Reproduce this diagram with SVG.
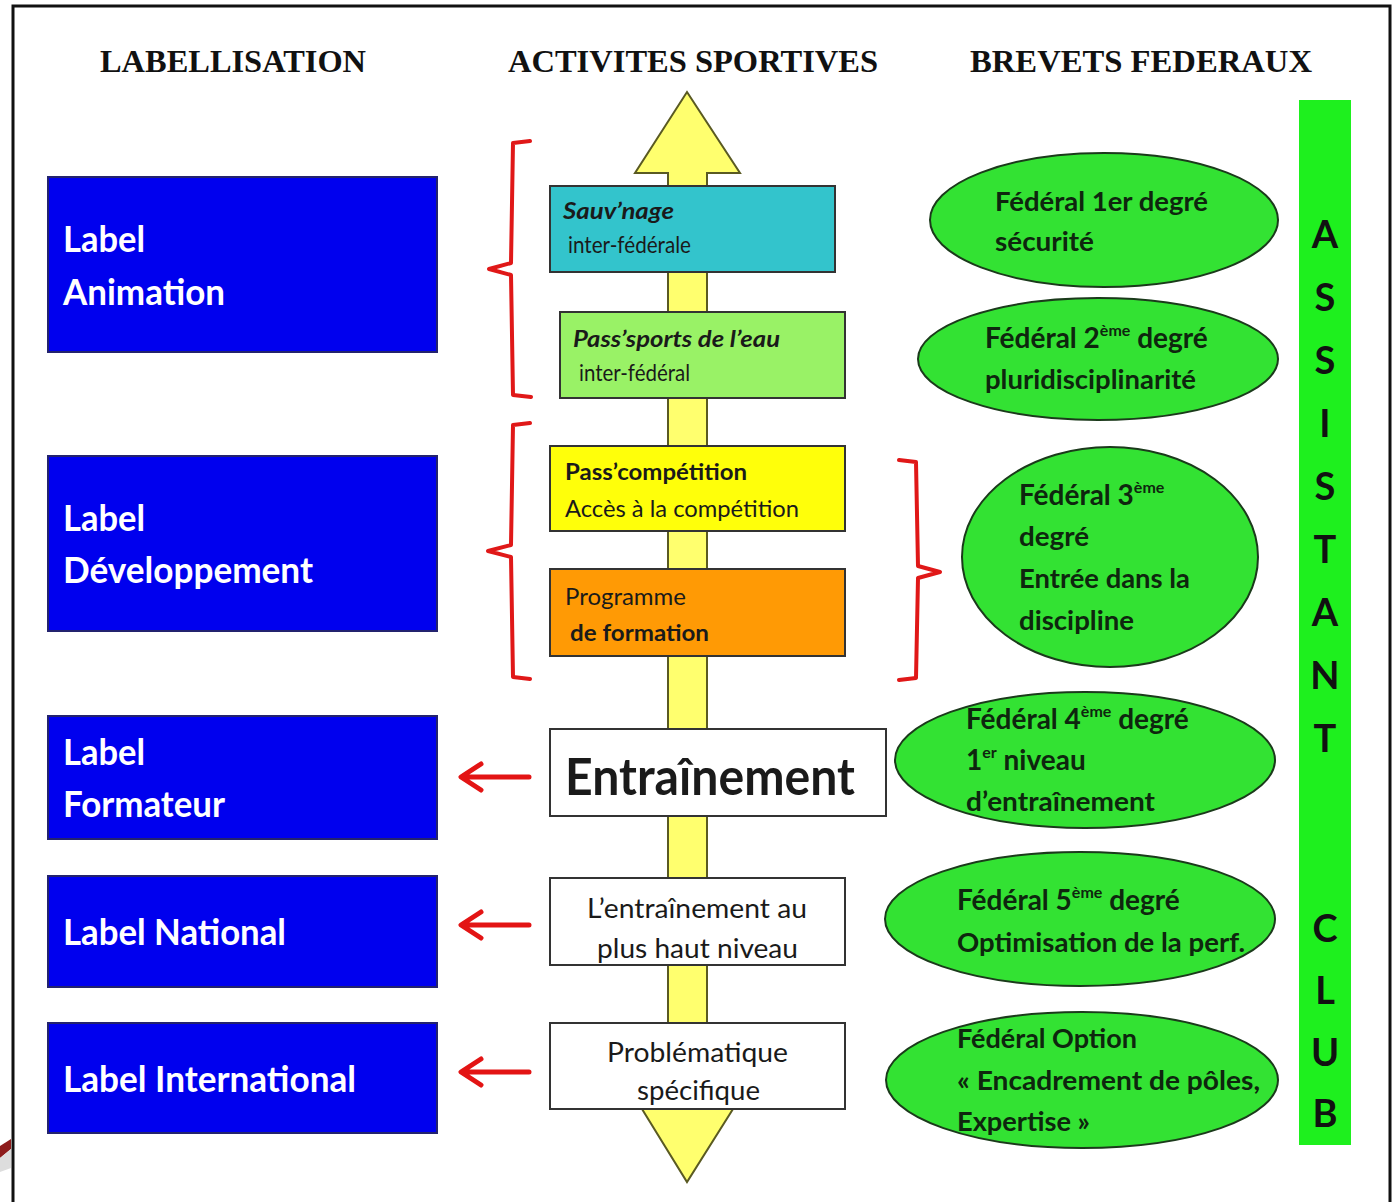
<svg xmlns="http://www.w3.org/2000/svg" width="1395" height="1202" viewBox="0 0 1395 1202">
<style>
.hdr{font-family:"Liberation Serif","Times New Roman",serif;font-weight:bold;font-size:32px;fill:#111}
.lbl{font-family:Lato,"Open Sans",sans-serif;font-weight:bold;font-size:36px;fill:#fff}
.blue{fill:#0000EE;stroke:#23236e;stroke-width:2}
.bx{stroke:#333;stroke-width:2}
.t{font-family:Lato,"Open Sans",sans-serif;font-size:23px;fill:#1a1a1a}
.b{font-weight:bold}
.i{font-style:italic}
.el{fill:#33E233;stroke:#1b3a1b;stroke-width:2}
.et{font-family:Lato,"Open Sans",sans-serif;font-weight:bold;font-size:26px;fill:#0e260e}
.ets{font-size:28px}
.sup{font-size:16px}
.bar{font-family:Lato,"Open Sans",sans-serif;font-weight:bold;font-size:38px;fill:#111;text-anchor:middle}
.red{fill:none;stroke:#E01818;stroke-width:4;stroke-linejoin:round;stroke-linecap:round}
.arr{fill:none;stroke:#E31414;stroke-width:5;stroke-linejoin:round;stroke-linecap:round}
</style>
<rect x="0" y="0" width="1395" height="1202" fill="#fff"/>
<rect x="13" y="6" width="1377" height="1210" fill="none" stroke="#111" stroke-width="3"/>
<polygon points="0,1146 11,1139 11,1149 0,1158" fill="#8e1c1c"/>
<polygon points="0,1158 11,1149 11,1168 0,1172" fill="#ddd"/>

<g id="headers">
<text class="hdr" x="100" y="72" textLength="266" lengthAdjust="spacingAndGlyphs">LABELLISATION</text>
<text class="hdr" x="508" y="72" textLength="370" lengthAdjust="spacingAndGlyphs">ACTIVITES SPORTIVES</text>
<text class="hdr" x="970" y="72" textLength="342" lengthAdjust="spacingAndGlyphs">BREVETS FEDERAUX</text>
</g>

<g id="main-arrow">
<polygon points="687,92 740,173 707,173 707,1109 733,1109 687,1182 642,1109 668,1109 668,173 635,173" fill="#FFFF6E" stroke="#5a5a22" stroke-width="2" stroke-linejoin="miter"/>
</g>

<g id="label-animation">
<rect class="blue" x="48" y="177" width="389" height="175"/>
<text class="lbl" x="63" y="252" textLength="82" lengthAdjust="spacingAndGlyphs">Label</text>
<text class="lbl" x="63" y="305" textLength="162" lengthAdjust="spacingAndGlyphs">Animation</text>
</g>
<g id="label-developpement">
<rect class="blue" x="48" y="456" width="389" height="175"/>
<text class="lbl" x="63" y="531" textLength="82" lengthAdjust="spacingAndGlyphs">Label</text>
<text class="lbl" x="63" y="583" textLength="250" lengthAdjust="spacingAndGlyphs">Développement</text>
</g>
<g id="label-formateur">
<rect class="blue" x="48" y="716" width="389" height="123"/>
<text class="lbl" x="63" y="765" textLength="82" lengthAdjust="spacingAndGlyphs">Label</text>
<text class="lbl" x="63" y="817" textLength="162" lengthAdjust="spacingAndGlyphs">Formateur</text>
</g>
<g id="label-national">
<rect class="blue" x="48" y="876" width="389" height="111"/>
<text class="lbl" x="63" y="945" textLength="223" lengthAdjust="spacingAndGlyphs">Label National</text>
</g>
<g id="label-international">
<rect class="blue" x="48" y="1023" width="389" height="110"/>
<text class="lbl" x="63" y="1092" textLength="293" lengthAdjust="spacingAndGlyphs">Label International</text>
</g>

<g id="sauvnage">
<rect class="bx" x="550" y="186" width="285" height="86" fill="#33C4CC"/>
<text class="t b i" x="563" y="219" textLength="111" lengthAdjust="spacingAndGlyphs" fill="#10282a">Sauv’nage</text>
<text class="t" x="568" y="253" textLength="123" lengthAdjust="spacingAndGlyphs" fill="#10282a">inter-fédérale</text>
</g>
<g id="passsports">
<rect class="bx" x="560" y="312" width="285" height="86" fill="#99F266"/>
<text class="t b i" x="573" y="347" textLength="207" lengthAdjust="spacingAndGlyphs" fill="#142a0c">Pass’sports de l’eau</text>
<text class="t" x="579" y="381" textLength="111" lengthAdjust="spacingAndGlyphs" fill="#142a0c">inter-fédéral</text>
</g>
<g id="passcompetition">
<rect class="bx" x="550" y="446" width="295" height="85" fill="#FFFF0A"/>
<text class="t b" x="565" y="480" textLength="182" lengthAdjust="spacingAndGlyphs">Pass’compétition</text>
<text class="t" x="565" y="517" textLength="234" lengthAdjust="spacingAndGlyphs" fill="#2a2a10">Accès à la compétition</text>
</g>
<g id="programme">
<rect class="bx" x="550" y="569" width="295" height="87" fill="#FF9A05"/>
<text class="t" x="565" y="605" textLength="121" lengthAdjust="spacingAndGlyphs" fill="#2a1a08">Programme</text>
<text class="t b" x="570" y="641" textLength="139" lengthAdjust="spacingAndGlyphs" fill="#1a1005">de formation</text>
</g>
<g id="entrainement">
<rect class="bx" x="550" y="729" width="336" height="87" fill="#fff"/>
<text class="t b" x="565" y="795" style="font-size:51px" textLength="290" lengthAdjust="spacingAndGlyphs" fill="#111">Entraînement</text>
</g>
<g id="haut-niveau">
<rect class="bx" x="550" y="878" width="295" height="87" fill="#fff"/>
<text class="t" x="587" y="918" style="font-size:26px" textLength="220" lengthAdjust="spacingAndGlyphs" fill="#111">L’entraînement au</text>
<text class="t" x="597" y="958" style="font-size:26px" textLength="201" lengthAdjust="spacingAndGlyphs" fill="#111">plus haut niveau</text>
</g>
<g id="problematique">
<rect class="bx" x="550" y="1023" width="295" height="86" fill="#fff"/>
<text class="t" x="607" y="1062" style="font-size:26px" textLength="181" lengthAdjust="spacingAndGlyphs" fill="#111">Problématique</text>
<text class="t" x="637" y="1100" style="font-size:26px" textLength="123" lengthAdjust="spacingAndGlyphs" fill="#111">spécifique</text>
</g>

<g id="federal-1">
<ellipse class="el" cx="1104" cy="220" rx="174" ry="67"/>
<text class="et" x="995" y="211" textLength="213" lengthAdjust="spacingAndGlyphs">Fédéral 1er degré</text>
<text class="et" x="995" y="251" textLength="99" lengthAdjust="spacingAndGlyphs">sécurité</text>
</g>
<g id="federal-2">
<ellipse class="el" cx="1098" cy="359" rx="180" ry="61"/>
<text class="et ets" x="985" y="348">Fédéral 2<tspan class="sup" dy="-12">ème</tspan><tspan dy="12"> degré</tspan></text>
<text class="et" x="985" y="389" textLength="211" lengthAdjust="spacingAndGlyphs">pluridisciplinarité</text>
</g>
<g id="federal-3">
<ellipse class="el" cx="1110" cy="557" rx="148" ry="110"/>
<text class="et ets" x="1019" y="505">Fédéral 3<tspan class="sup" dy="-12">ème</tspan></text>
<text class="et" x="1019" y="546" textLength="70" lengthAdjust="spacingAndGlyphs">degré</text>
<text class="et" x="1019" y="588" textLength="171" lengthAdjust="spacingAndGlyphs">Entrée dans la</text>
<text class="et" x="1019" y="630" textLength="115" lengthAdjust="spacingAndGlyphs">discipline</text>
</g>
<g id="federal-4">
<ellipse class="el" cx="1085" cy="760" rx="190" ry="68"/>
<text class="et ets" x="966" y="729">Fédéral 4<tspan class="sup" dy="-12">ème</tspan><tspan dy="12"> degré</tspan></text>
<text class="et ets" x="966" y="770">1<tspan class="sup" dy="-12">er</tspan><tspan dy="12"> niveau</tspan></text>
<text class="et" x="966" y="811" textLength="189" lengthAdjust="spacingAndGlyphs">d’entraînement</text>
</g>
<g id="federal-5">
<ellipse class="el" cx="1080" cy="919" rx="195" ry="67"/>
<text class="et ets" x="957" y="910">Fédéral 5<tspan class="sup" dy="-12">ème</tspan><tspan dy="12"> degré</tspan></text>
<text class="et" x="957" y="952" textLength="288" lengthAdjust="spacingAndGlyphs">Optimisation de la perf.</text>
</g>
<g id="federal-option">
<ellipse class="el" cx="1082" cy="1080" rx="196" ry="68"/>
<text class="et" x="957" y="1048" textLength="180" lengthAdjust="spacingAndGlyphs">Fédéral Option</text>
<text class="et" x="957" y="1090" textLength="303" lengthAdjust="spacingAndGlyphs">« Encadrement de pôles,</text>
<text class="et" x="957" y="1131" textLength="133" lengthAdjust="spacingAndGlyphs">Expertise »</text>
</g>

<g id="assistant-club">
<rect x="1299" y="100" width="52" height="1045" fill="#1EF01E"/>
<text class="bar" x="1325" y="248">A</text>
<text class="bar" x="1325" y="311">S</text>
<text class="bar" x="1325" y="374">S</text>
<text class="bar" x="1325" y="437">I</text>
<text class="bar" x="1325" y="500">S</text>
<text class="bar" x="1325" y="563">T</text>
<text class="bar" x="1325" y="626">A</text>
<text class="bar" x="1325" y="689">N</text>
<text class="bar" x="1325" y="752">T</text>
<text class="bar" x="1325" y="942">C</text>
<text class="bar" x="1325" y="1004">L</text>
<text class="bar" x="1325" y="1066">U</text>
<text class="bar" x="1325" y="1127">B</text>
</g>

<g id="connectors">
<path class="red" d="M530,141 L513,143 L511,263 L489,269 L511,275 L513,395 L531,397"/>
<path class="red" d="M530,423 L513,425 L511,545 L488,551 L511,557 L513,677 L530,679"/>
<path class="red" d="M899,460 L916,462 L918,566 L940,572 L918,578 L916,678 L899,680"/>
<path class="arr" d="M529,777 L462,777 M481,764 L461,777 L481,790"/>
<path class="arr" d="M529,925 L462,925 M481,912 L461,925 L481,938"/>
<path class="arr" d="M529,1072 L462,1072 M481,1059 L461,1072 L481,1085"/>
</g>
</svg>
